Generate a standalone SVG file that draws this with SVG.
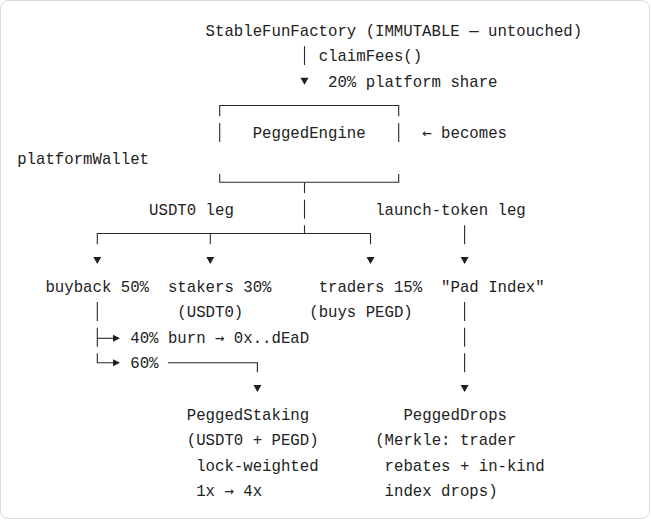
<svg xmlns="http://www.w3.org/2000/svg" width="651" height="520" viewBox="0 0 651 520">
  <style>
    text { font-family: "Liberation Mono", "DejaVu Sans Mono", monospace; font-size: 15.7px; fill: #222222; }
    .ar { font-family: "DejaVu Sans Mono", "Liberation Mono", monospace; font-size: 15.7px; }
    .ln { stroke: #2a2a2a; stroke-width: 1.1; fill: none; }
    .hd { fill: #1f1f1f; stroke: none; }
  </style>
  <rect x="0.5" y="0.5" width="649" height="518" rx="8" ry="8" fill="#ffffff" stroke="#d9d9d9" stroke-width="1"/>

  <g id="factory"><text x="205.6" y="35.5">StableFunFactory (IMMUTABLE — untouched)</text></g>
  <g id="claimFeesLabel"><text x="318.64" y="61.1">claimFees()</text></g>
  <g id="shareLabel"><text x="328.06" y="86.7">20% platform share</text></g>

  <g id="engine">
    <path class="ln" d="M219.7,116.3 V105.5 H398.7 V116.3"/>
    <line class="ln" x1="219.7" y1="122.9" x2="219.7" y2="141.9"/>
    <line class="ln" x1="398.7" y1="122.9" x2="398.7" y2="141.9"/>
    <path class="ln" d="M219.7,174.1 V182.3 H398.7 V174.1"/>
    <text x="252.7" y="137.9">PeggedEngine</text>
  </g>
  <g id="becomesLabel"><text x="422.26" y="137.9"><tspan class="ar">←</tspan></text><text x="441.1" y="137.9">becomes</text></g>
  <g id="platformWallet"><text x="17.2" y="163.5">platformWallet</text></g>

  <g id="usdtLegLabel"><text x="149.08" y="214.7">USDT0 leg</text></g>
  <g id="launchLegLabel"><text x="375.16" y="214.7">launch-token leg</text></g>

  <g id="buyback"><text x="45.46" y="291.5">buyback 50%</text></g>
  <g id="stakers">
    <text x="167.92" y="291.5">stakers 30%</text>
    <text x="177.34" y="317.1">(USDT0)</text>
  </g>
  <g id="traders">
    <text x="318.64" y="291.5">traders 15%</text>
    <text x="309.22" y="317.1">(buys PEGD)</text>
  </g>
  <g id="padIndex"><text x="441.1" y="291.5">"Pad Index"</text></g>

  <g id="burnLabel">
    <text x="130.24" y="342.7">40% burn</text>
    <text x="215.02" y="342.7"><tspan class="ar">→</tspan></text>
    <text x="233.86" y="342.7">0x..dEaD</text>
  </g>
  <g id="stakeShareLabel"><text x="130.24" y="368.3">60%</text></g>

  <g id="staking">
    <text x="186.76" y="419.5">PeggedStaking</text>
    <text x="186.76" y="445.1">(USDT0 + PEGD)</text>
    <text x="196.18" y="470.7">lock-weighted</text>
    <text x="196.18" y="496.3">1x</text>
    <text x="224.44" y="496.3"><tspan class="ar">→</tspan></text>
    <text x="243.28" y="496.3">4x</text>
  </g>
  <g id="drops">
    <text x="403.42" y="419.5">PeggedDrops</text>
    <text x="375.16" y="445.1">(Merkle: trader</text>
    <text x="384.58" y="470.7">rebates + in-kind</text>
    <text x="384.58" y="496.3">index drops)</text>
  </g>

  <g id="connectors">
    <line class="ln" x1="304.5" y1="46.1" x2="304.5" y2="65.1"/>
    <polygon class="hd" points="300.5,77.7 308.5,77.7 304.5,84.7"/>
    <line class="ln" x1="304.5" y1="182.3" x2="304.5" y2="193.1"/>
    <line class="ln" x1="304.5" y1="199.7" x2="304.5" y2="218.7"/>
    <line class="ln" x1="304.5" y1="225.3" x2="304.5" y2="233.5"/>
    <path class="ln" d="M97.3,244.3 V233.5 H370.5 V244.3"/>
    <line class="ln" x1="210.3" y1="233.5" x2="210.3" y2="244.3"/>
    <polygon class="hd" points="93.3,256.9 101.3,256.9 97.3,263.9"/>
    <polygon class="hd" points="206.3,256.9 214.3,256.9 210.3,263.9"/>
    <polygon class="hd" points="366.5,256.9 374.5,256.9 370.5,263.9"/>
    <line class="ln" x1="464.6" y1="225.3" x2="464.6" y2="244.3"/>
    <polygon class="hd" points="460.6,256.9 468.6,256.9 464.6,263.9"/>
    <line class="ln" x1="464.6" y1="302.1" x2="464.6" y2="321.1"/>
    <line class="ln" x1="464.6" y1="327.7" x2="464.6" y2="346.7"/>
    <line class="ln" x1="464.6" y1="353.3" x2="464.6" y2="372.3"/>
    <polygon class="hd" points="460.6,384.9 468.6,384.9 464.6,391.9"/>
    <line class="ln" x1="97.3" y1="302.1" x2="97.3" y2="321.1"/>
    <line class="ln" x1="97.3" y1="327.7" x2="97.3" y2="346.7"/>
    <line class="ln" x1="97.3" y1="338.3" x2="114" y2="338.3"/>
    <polygon class="hd" points="113,334.8 120,338.3 113,341.8"/>
    <path class="ln" d="M97.3,353.3 V362.7 H114"/>
    <polygon class="hd" points="113,359.2 120,362.7 113,366.2"/>
    <path class="ln" d="M167.9,362.7 H257.4 V372.3"/>
    <polygon class="hd" points="253.4,384.9 261.4,384.9 257.4,391.9"/>
  </g>
</svg>
